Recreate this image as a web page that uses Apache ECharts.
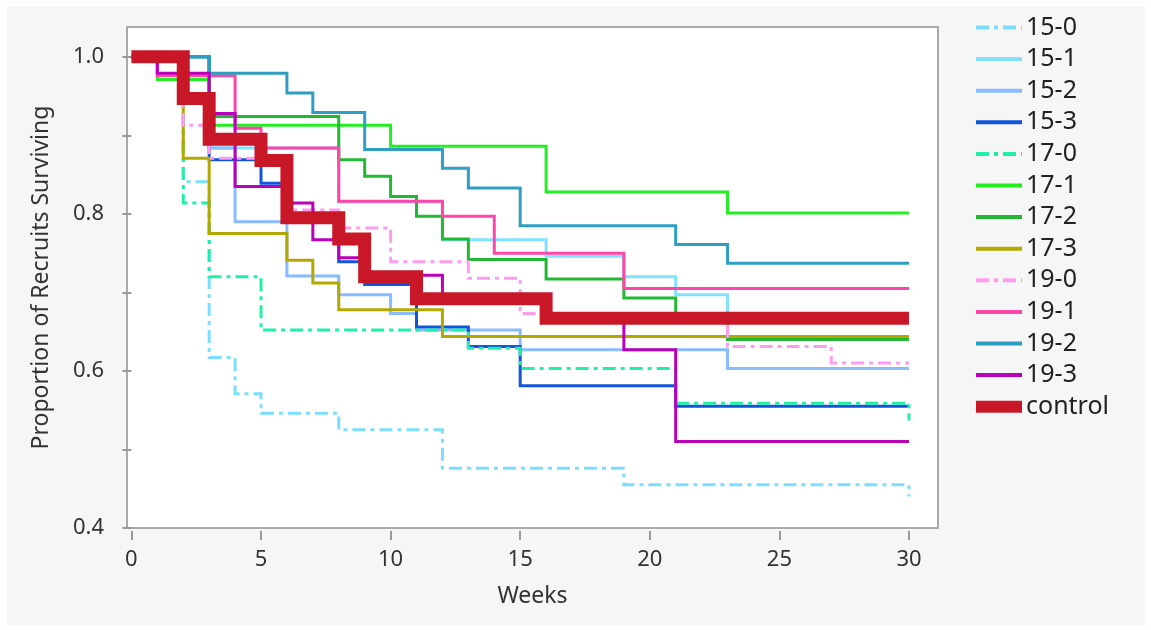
<!DOCTYPE html>
<html>
<head>
<meta charset="utf-8">
<script src="https://cdn.jsdelivr.net/npm/echarts@6/dist/echarts.min.js"></script>
<style>
  html, body { margin: 0; padding: 0; background: #fff; }
  #panel { position: absolute; left: 7px; top: 6px; width: 1138px; height: 619px; background: #f6f6f6; }
  #chart { position: absolute; left: 0; top: 0; width: 1151px; height: 630px; }
</style>
</head>
<body>
<div id="panel"></div>
<div id="chart"></div>
<script>
  // Kaplan-Meier style survival, [week, proportion] at each step
  const s15_0 = [[0, 1], [2, 0.841], [3, 0.617], [4, 0.571], [5, 0.546], [8, 0.525], [12, 0.476], [19, 0.455], [30, 0.44]]
  const s15_1 = [[0, 1], [3, 0.884], [8, 0.815], [12, 0.767], [16, 0.746], [19, 0.72], [21, 0.697], [23, 0.668], [30, 0.668]]
  const s15_2 = [[0, 1], [3, 0.884], [4, 0.79], [6, 0.721], [8, 0.697], [10, 0.673], [11, 0.652], [15, 0.627], [23, 0.603], [30, 0.603]]
  const s15_3 = [[0, 1], [3, 0.869], [5, 0.839], [6, 0.792], [8, 0.739], [9, 0.71], [11, 0.656], [13, 0.631], [15, 0.581], [21, 0.555], [30, 0.555]]
  const s17_0 = [[0, 1], [2, 0.814], [3, 0.72], [5, 0.652], [13, 0.629], [15, 0.603], [21, 0.559], [30, 0.537]]
  const s17_1 = [[0, 1], [1, 0.971], [3, 0.913], [10, 0.886], [16, 0.828], [23, 0.801], [30, 0.801]]
  const s17_2 = [[0, 1], [3, 0.924], [8, 0.869], [9, 0.848], [10, 0.822], [11, 0.797], [12, 0.768], [13, 0.742], [16, 0.717], [19, 0.693], [21, 0.667], [23, 0.64], [30, 0.64]]
  const s17_3 = [[0, 1], [2, 0.871], [3, 0.775], [6, 0.741], [7, 0.712], [8, 0.678], [12, 0.644], [30, 0.644]]
  const s19_0 = [[0, 1], [2, 0.913], [3, 0.871], [6, 0.805], [8, 0.782], [10, 0.739], [13, 0.718], [15, 0.673], [23, 0.631], [27, 0.61], [30, 0.61]]
  const s19_1 = [[0, 1], [1, 0.976], [4, 0.909], [5, 0.884], [8, 0.816], [12, 0.797], [14, 0.75], [19, 0.705], [30, 0.705]]
  const s19_2 = [[0, 1], [3, 0.979], [6, 0.954], [7, 0.929], [9, 0.882], [12, 0.858], [13, 0.833], [15, 0.785], [21, 0.761], [23, 0.737], [30, 0.737]]
  const s19_3 = [[0, 1], [1, 0.979], [3, 0.928], [4, 0.835], [6, 0.814], [7, 0.767], [8, 0.744], [9, 0.722], [12, 0.695], [16, 0.665], [19, 0.627], [21, 0.51], [30, 0.51]]
  const control = [[0, 1], [2, 0.947], [3, 0.895], [5, 0.868], [6, 0.795], [8, 0.768], [9, 0.72], [11, 0.692], [16, 0.667], [30, 0.667]]

  const groups = ['15-0', '15-1', '15-2', '15-3', '17-0', '17-1', '17-2', '17-3', '19-0', '19-1', '19-2', '19-3', 'control']
  const curves = [s15_0, s15_1, s15_2, s15_3, s17_0, s17_1, s17_2, s17_3, s19_0, s19_1, s19_2, s19_3, control]
  const colors = ['#7adfff', '#80e2ff', '#88bbff', '#1155dd', '#1ef0aa', '#22ee22', '#22b833', '#b3a800',
    '#ff9cf0', '#ff44aa', '#2e9ec2', '#bb00bb', '#c81828']

  const xTicks = [0, 5, 10, 15, 20, 25, 30]
  const yLabels = [0.4, 0.6, 0.8, 1.0]
  const yTicks = [0.4, 0.5, 0.6, 0.7, 0.8, 0.9, 1.0]

  const dashDot = [13, 5, 4, 5]
  const FONT = 'Noto Sans'

  const chart = echarts.init(document.getElementById('chart'))

  const series = groups.map((g, i) => {
    const isControl = g === 'control'
    const dashed = g.endsWith('-0')
    return {
      name: g,
      type: 'line',
      step: 'end',
      symbol: 'none',
      data: curves[i],
      color: colors[i],
      lineStyle: {
        width: isControl ? 13 : 3,
        type: dashed ? dashDot : 'solid',
        cap: 'butt',
        join: 'miter'
      },
      emphasis: { disabled: true }
    }
  })

  // legend entries: thicker sample lines, no marker
  const legendData = groups.map(g => ({
    name: g,
    lineStyle: { width: g === 'control' ? 12 : 4 }
  }))

  const option = {
    animation: false,
    backgroundColor: 'transparent',
    textStyle: { fontFamily: FONT },
    grid: {
      left: 127,
      top: 27,
      right: 213,
      bottom: 102,
      show: true,
      backgroundColor: '#fff',
      borderColor: '#a9a9a9',
      borderWidth: 2
    },
    legend: {
      orient: 'vertical',
      left: 965,
      top: 10,
      itemWidth: 46,
      itemHeight: 14,
      itemGap: 6.6,
      data: legendData,
      itemStyle: { opacity: 0 },
      textStyle: { fontSize: 25, color: '#222', fontFamily: FONT, padding: [0, 0, 0, -1] }
    },
    xAxis: {
      type: 'value',
      min: -0.17,
      max: 31.12,
      offset: 3,
      name: 'Weeks',
      nameLocation: 'middle',
      nameGap: 54,
      nameTextStyle: { fontSize: 23, color: '#333' },
      axisLine: { show: false },
      splitLine: { show: false },
      axisTick: { show: true, length: 9, customValues: xTicks, lineStyle: { color: '#999', width: 2 } },
      axisLabel: { customValues: xTicks, margin: 18, fontSize: 22, color: '#333' }
    },
    yAxis: {
      type: 'value',
      min: 0.4,
      max: 1.038,
      offset: 2,
      name: 'Proportion of Recruits Surviving',
      nameLocation: 'middle',
      nameGap: 72,
      nameRotate: 90,
      nameTextStyle: { fontSize: 23, color: '#333' },
      axisLine: { show: false },
      splitLine: { show: false },
      axisTick: { show: true, length: 9, customValues: yTicks, lineStyle: { color: '#999', width: 2 } },
      axisLabel: {
        customValues: yLabels,
        margin: 21,
        fontSize: 22,
        color: '#333',
        formatter: v => v.toFixed(1)
      }
    },
    series: series
  }

  chart.setOption(option)
</script>
</body>
</html>
